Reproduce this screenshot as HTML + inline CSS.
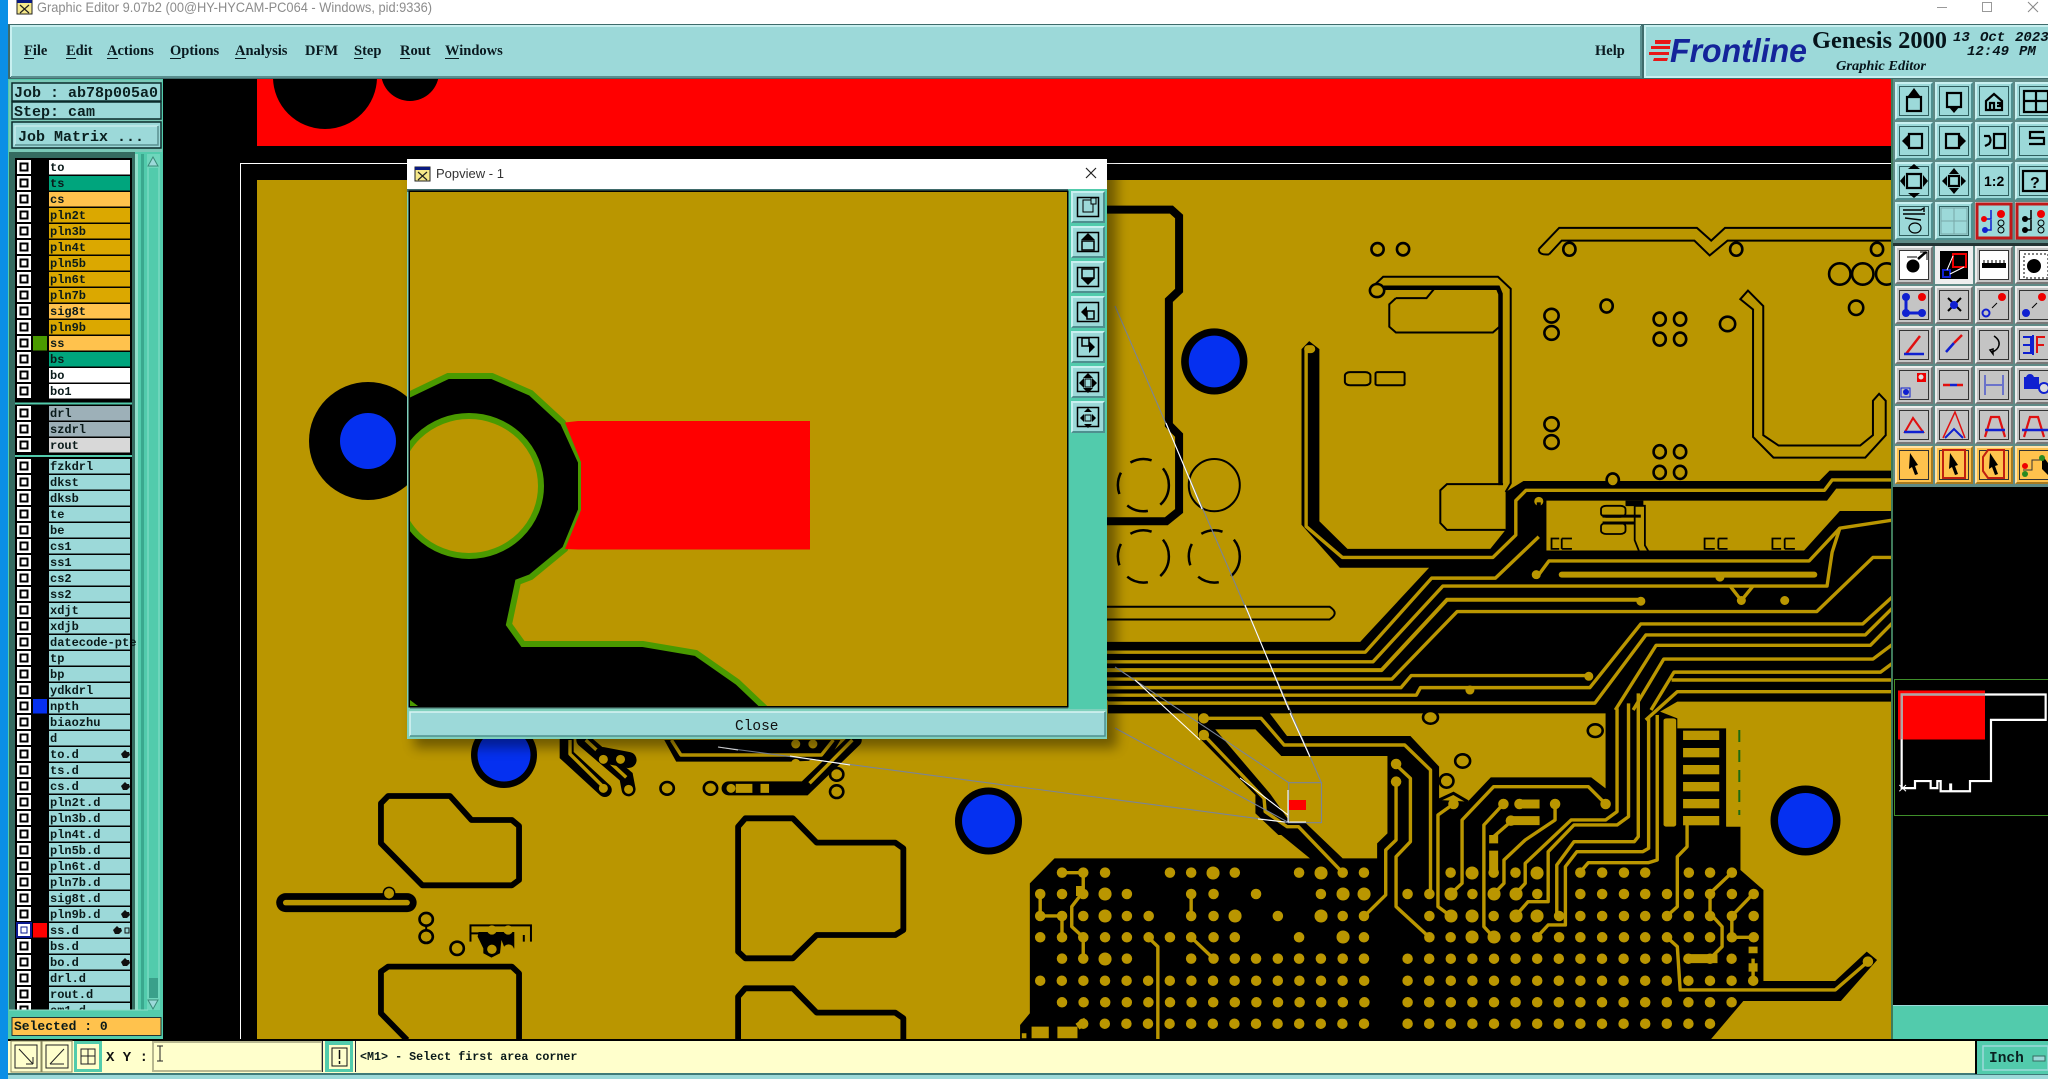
<!DOCTYPE html>
<html><head><meta charset="utf-8"><title>Graphic Editor</title>
<style>
html,body{margin:0;padding:0;background:#000;width:2048px;height:1079px;overflow:hidden}
svg{display:block;position:absolute;left:0;top:0}
svg *{vector-effect:non-scaling-stroke}
.m{font:bold 12px "Liberation Mono",monospace;fill:#0a1a1a}
.j{font:bold 15px "Liberation Mono",monospace;fill:#0a2020}
.u{font:bold 14.5px "Liberation Serif",serif;fill:#0a1a20}
.k{fill:none;stroke:#000;stroke-linejoin:round}
.t{stroke:#ba9600;fill:none;stroke-width:3.4;stroke-linejoin:round}
.r{fill:#ba9600;stroke:#000;stroke-width:2.6}
.ri{fill:none;stroke:#000;stroke-width:2}
.d{fill:none;stroke-linecap:round;stroke:#ba9600;stroke-width:10.5}
.ts{stroke:#000;fill:none;stroke-width:2}
</style></head><body>
<svg width="2048" height="1079" viewBox="0 0 2048 1079" xmlns="http://www.w3.org/2000/svg">
<defs>
<clipPath id="cv"><rect x="257" y="180" width="1635" height="859"/></clipPath>
<clipPath id="top"><rect x="257" y="79" width="1635" height="67"/></clipPath>
<clipPath id="pc"><rect x="410" y="192" width="657" height="514"/></clipPath>
<filter id="sh" x="-5%" y="-5%" width="110%" height="110%"><feGaussianBlur stdDeviation="6"/></filter>
<g id="c"><rect x="17" width="14" height="14" fill="#fff"/><rect x="20.5" y="3.5" width="7" height="7" fill="none" stroke="#000" stroke-width="2"/></g>
<g id="bt"><rect width="38" height="38" fill="#9cd9d9"/><path d="M0 38V0H38l-2 2H2V36z" fill="#c8f0f0"/><path d="M38 0V38H0l2-2H36V2z" fill="#4f8f8f"/><rect x="4.5" y="4.5" width="29" height="29" fill="none" stroke="#2f5f5f"/></g>
<g id="bg"><rect width="38" height="38" fill="#c4c4c4"/><path d="M0 38V0H38l-2 2H2V36z" fill="#eee"/><path d="M38 0V38H0l2-2H36V2z" fill="#777"/><rect x="4.5" y="4.5" width="29" height="29" fill="none" stroke="#333"/></g>
<g id="bw"><rect width="38" height="38" fill="#c4c4c4"/><path d="M0 38V0H38l-2 2H2V36z" fill="#eee"/><path d="M38 0V38H0l2-2H36V2z" fill="#777"/><rect x="4.5" y="4.5" width="29" height="29" fill="#fff" stroke="#333"/></g>
<g id="by"><rect width="38" height="38" fill="#ffc24d"/><path d="M0 38V0H38l-2 2H2V36z" fill="#ffe3a8"/><path d="M38 0V38H0l2-2H36V2z" fill="#a87a20"/><rect x="4.5" y="4.5" width="29" height="29" fill="none" stroke="#333"/></g>
<g id="bp"><rect width="34" height="32" fill="#9cd9d9"/><path d="M0 32V0H34l-2 2H2V30z" fill="#c8f0f0"/><path d="M34 0V32H0l2-2H32V2z" fill="#4f8f8f"/><rect x="6.5" y="6.5" width="21" height="19" fill="none" stroke="#000" stroke-width="1.5"/></g>
</defs>

<!-- base -->
<rect width="2048" height="1079" fill="#000"/>
<rect width="8" height="1079" fill="#0a8fe6"/>
<rect x="8" width="2040" height="24" fill="#fff"/>
<rect x="17" y="0" width="15" height="14" fill="#f6e88a" stroke="#222"/><rect x="17" y="0" width="15" height="3" fill="#0a1a80"/><path d="M20 5l9 8M29 5l-9 8" stroke="#222" stroke-width="1.2"/>
<text x="37" y="12" textLength="395" lengthAdjust="spacingAndGlyphs" style="font:14px 'Liberation Sans',sans-serif" fill="#8c8c8c">Graphic Editor 9.07b2 (00@HY-HYCAM-PC064 - Windows, pid:9336)</text>
<path d="M1937 7.5h10" stroke="#999"/><rect x="1982.5" y="2.5" width="9" height="9" fill="none" stroke="#999"/><path d="M2028 2l10 10M2038 2l-10 10" stroke="#888"/>

<!-- menu -->
<rect x="8" y="24" width="2040" height="55" fill="#3f6b6b"/>
<rect x="11" y="26" width="1630" height="51" fill="#9cd9d9"/><path d="M11 77V26H1641" fill="none" stroke="#c8f0f0" stroke-width="2"/><path d="M1641 26V77H11" fill="none" stroke="#5a8f8f" stroke-width="2"/>
<rect x="1645" y="26" width="403" height="51" fill="#9cd9d9"/><path d="M1645 77V26H2048" fill="none" stroke="#c8f0f0" stroke-width="2"/><path d="M1644 77H2048" stroke="#c8f0f0" stroke-width="2"/>
<text class="u" x="24" y="55">File</text><text class="u" x="66" y="55">Edit</text><text class="u" x="107" y="55">Actions</text><text class="u" x="170" y="55">Options</text><text class="u" x="235" y="55">Analysis</text><text class="u" x="305" y="55">DFM</text><text class="u" x="354" y="55">Step</text><text class="u" x="400" y="55">Rout</text><text class="u" x="445" y="55">Windows</text><text class="u" x="1595" y="55">Help</text>
<path d="M24 58.5h10M66 58.5h10M107 58.5h11M170 58.5h11M235 58.5h11M354 58.5h9M400 58.5h10M445 58.5h14" stroke="#0a1a20"/>
<path d="M1655 40h16l-1 4h-15zM1651 46h19v3h-19zM1649 52h20v3h-20zM1654 58h14l-1 3h-14z" fill="#e81818"/>
<text x="1670" y="62" textLength="137" lengthAdjust="spacingAndGlyphs" style="font:italic bold 33px 'Liberation Sans',sans-serif" fill="#14249a">Frontline</text>
<text x="1812" y="48" textLength="135" lengthAdjust="spacingAndGlyphs" style="font:bold 24px 'Liberation Serif',serif" fill="#06141a">Genesis 2000</text>
<text x="1836" y="70" textLength="90" lengthAdjust="spacingAndGlyphs" style="font:italic bold 14px 'Liberation Serif',serif" fill="#06141a">Graphic Editor</text>
<g style="font:italic bold 14px 'Liberation Mono',monospace" fill="#06141a"><text x="1953" y="41">13</text><text x="1980" y="41">Oct</text><text x="2015" y="41">2023</text><text x="1967" y="55">12:49</text><text x="2019" y="55">PM</text></g>

<!-- canvas -->
<rect x="163" y="79" width="1729" height="960" fill="#000"/>
<rect x="257" y="79" width="1635" height="67" fill="#f00"/>
<g clip-path="url(#top)"><circle cx="325" cy="77" r="52" fill="#000"/><circle cx="410" cy="72" r="29" fill="#000"/></g>
<path d="M240.500 1039V163.500H1892" fill="none" stroke="#fff"/>
<rect x="257" y="180" width="1635" height="859" fill="#ba9600"/>
<g clip-path="url(#cv)">
<circle cx="368" cy="441" r="59" fill="#000"/><circle cx="368" cy="441" r="28" fill="#0530f0"/>

<!-- z7 lower left -->
<g transform="translate(250,740) scale(.4762,.3333)">
<g class="k" stroke-width="5.800">
<path d="M275,190L290,168H420L465,240H550L565,258V420L550,436H362L275,310Z"/>
<path d="M565,900V700L550,680H290L275,695V820L330,900"/>
<path d="M1025,260L1040,235H1140L1190,308H1355L1372,325V570L1355,585H1190L1140,655H1040L1025,635Z"/>
<path d="M1025,900V770L1040,745H1140L1190,818H1355L1372,835V900"/>
</g>
<path d="M75,488H330" stroke="#000" stroke-width="19" stroke-linecap="round" fill="none"/>
<path d="M75,488H330" stroke="#ba9600" stroke-width="5.500" stroke-linecap="round" fill="none"/>
<ellipse class="r" cx="292" cy="460" rx="12" ry="18" style="stroke-width:1.500"/>
<ellipse class="r" cx="370" cy="538" rx="14" ry="19"/><ellipse class="r" cx="370" cy="590" rx="14" ry="19"/><ellipse class="r" cx="435" cy="625" rx="14" ry="20"/><ellipse class="r" cx="876" cy="145" rx="14" ry="19"/><ellipse class="r" cx="967" cy="145" rx="14" ry="19"/><ellipse class="r" cx="1232" cy="103" rx="14" ry="19"/><ellipse class="r" cx="1232" cy="155" rx="14" ry="19"/>
<path d="M370,557V571" stroke="#000" stroke-width="2"/>
<path class="ri" d="M463,605V556H590V605M575,605V585M490,580H465"/>
<path d="M478,590L490,625V640L507,653L525,640L528,600L535,625H555V576H480Z" fill="#000"/>
<ellipse cx="508" cy="628" rx="10" ry="14" fill="#ba9600"/><ellipse cx="543" cy="628" rx="11" ry="15" fill="#ba9600"/><ellipse cx="508" cy="570" rx="10" ry="14" fill="#ba9600"/><ellipse cx="542" cy="570" rx="10" ry="14" fill="#ba9600"/>
<path d="M870,0L895,65H1135L1215,60L1240,0Z" fill="#000"/>
<path d="M885,0L905,45H1200L1225,0" class="t"/>
<path d="M665,0V45L745,150M700,0L790,110L795,148" stroke="#000" stroke-width="14" stroke-linecap="round" fill="none"/>
<path d="M672,0V42L745,145M705,0L790,112M760,30H790" class="t"/>
<path d="M740,45L795,60" stroke="#000" stroke-width="16" stroke-linecap="round"/>
<path d="M1005,145H1165L1270,0" stroke="#000" stroke-width="14" stroke-linecap="round" fill="none"/>
<path d="M1175,130L1265,0" class="t"/>
<path d="M1020,145h35M1072,145h18" stroke="#ba9600" stroke-width="9"/>
<path class="d" style="stroke-width:9" d="M742,58h.1M778,58h.1M742,145h.1M795,148h.1M1146,12h.1M1182,12h.1M1146,70h.1M1182,70h.1M1010,145h.1"/>
</g>
<circle cx="504" cy="755" r="33" fill="#000"/><circle cx="504" cy="755" r="26.500" fill="#0530f0"/>
<circle cx="988.500" cy="821" r="33.500" fill="#000"/><circle cx="988.500" cy="821" r="26.500" fill="#0530f0"/>

<!-- black zones -->
<g transform="translate(1100,170) scale(.5102,.3444)">
<path fill="#000" d="M0,1370H510L645,1155H470L395,1030V520L410,497L430,520V1020L485,1100H765L795,1045V935L830,903H1410L1430,873H1560V1540H0Z"/>
<path fill="#ba9600" d="M875,960H1425L1443,925H1560V990H1450L1380,1105H875Z"/>
</g>
<g transform="translate(1000,680) scale(.574,.3333)">
<path fill="#000" d="M188,0H1560V65H1180L1150,95L1180,115V145H1265V440H1290V570L1330,630V903H1455L1510,815L1528,840L1465,963H1295L1235,1085H35V1035L52,1000V610L95,535H540L490,465H485L445,400V345L345,170V100H188Z"/>
<path fill="#ba9600" d="M470,100H1055V325L1030,292H855L815,365L765,360V260L715,168H500Z"/>
<path fill="#ba9600" d="M375,148H445L490,228H675V460L657,490V535H597L530,425H505L470,340Z"/>
<rect x="1190" y="152" width="63" height="28" fill="#ba9600"/><rect x="1190" y="204" width="63" height="28" fill="#ba9600"/><rect x="1190" y="255" width="63" height="28" fill="#ba9600"/><rect x="1190" y="306" width="63" height="28" fill="#ba9600"/><rect x="1190" y="357" width="63" height="28" fill="#ba9600"/><rect x="1190" y="408" width="63" height="28" fill="#ba9600"/>
<rect x="1266" y="145" width="24" height="295" fill="#ba9600"/>
<path d="M1288,150V405" stroke="#1c6a10" stroke-width="2" stroke-dasharray="12 8" fill="none"/>
<rect x="1156" y="115" width="22" height="325" rx="6" fill="#ba9600"/>
<ellipse class="r" cx="750" cy="112" rx="13" ry="19"/><ellipse class="r" cx="1037" cy="152" rx="13" ry="19"/><ellipse class="r" cx="806" cy="243" rx="13" ry="20"/><ellipse class="r" cx="778" cy="303" rx="12" ry="20"/>
<path d="M765,360L790,340L815,365" stroke="#000" stroke-width="3" fill="none"/>
<g class="t">
<path d="M355,165L460,355L462,395L500,440H520L597,578"/>
<path d="M355,115H455L495,195H705L750,270V640"/>
<path d="M690,255L715,295V485L690,530V680L748,772"/>
<path d="M690,305V480L672,510V645L635,708"/>
<path d="M790,372L763,405V680L785,708"/>
<path d="M877,372L843,435V740L860,772"/>
<path d="M967,372V420L915,480L878,540V610L860,642"/>
<path d="M1055,372L1025,320H860L805,420V610L785,642"/>
<path d="M1075,85V395L1055,420H995L915,550V610L898,642"/>
<path d="M1095,70V410L1075,435H1000L955,515V665H920L898,708"/>
<path d="M1112,40V470L1105,485H1000L970,555V705"/>
<path d="M1130,110V505L1120,515H1005L985,560V735H955L935,772"/>
<path d="M1145,105V540L1130,548H1025L1010,578"/>
<path d="M1125,120L1180,35H1560"/>
<path d="M1170,0H1560"/>
<path d="M1197,435V500L1180,530V680L1162,708"/>
<path d="M1512,845L1455,930H1185L1180,800L1162,772"/>
<path d="M275,1085V800L258,772"/>
<path d="M105,578H145V635L125,680V740L145,772V836"/>
<path d="M70,642V708H108V772"/>
<path d="M333,642V708M333,772L372,836"/>
<path d="M1275,578L1237,640V700L1258,740V800L1237,836H1200"/>
<path d="M1312,642L1275,708V772H1312"/>
<path d="M1312,836V905"/>
<path d="M860,470L890,425H940"/>
</g>
<path d="M900,372H940M890,422H940M860,465V490M860,512V570M1200,836H1250M1312,800V820M1312,850V875" stroke="#ba9600" stroke-width="9" fill="none"/>
<path class="d" d="M108,578h.1M145,578h.1M183,578h.1M296,578h.1M333,578h.1M372,578h.1M409,578h.1M521,578h.1M559,578h.1M597,578h.1M634,578h.1M785,578h.1M823,578h.1M860,578h.1M898,578h.1M936,578h.1M1011,578h.1M1049,578h.1M1087,578h.1M1124,578h.1M1200,578h.1M1237,578h.1M1275,578h.1
M70,642h.1M108,642h.1M145,642h.1M183,642h.1M221,642h.1M333,642h.1M372,642h.1M446,642h.1M559,642h.1M597,642h.1M634,642h.1M710,642h.1M748,642h.1M785,642h.1M823,642h.1M860,642h.1M898,642h.1M936,642h.1M1011,642h.1M1049,642h.1M1087,642h.1M1124,642h.1M1162,642h.1M1200,642h.1M1237,642h.1M1275,642h.1M1313,642h.1
M70,708h.1M108,708h.1M145,708h.1M183,708h.1M221,708h.1M259,708h.1M333,708h.1M372,708h.1M409,708h.1M484,708h.1M559,708h.1M597,708h.1M634,708h.1M748,708h.1M785,708h.1M823,708h.1M860,708h.1M898,708h.1M936,708h.1M974,708h.1M1011,708h.1M1049,708h.1M1087,708h.1M1124,708h.1M1162,708h.1M1200,708h.1M1237,708h.1M1275,708h.1M1313,708h.1
M70,772h.1M108,772h.1M145,772h.1M183,772h.1M221,772h.1M259,772h.1M296,772h.1M333,772h.1M372,772h.1M409,772h.1M521,772h.1M597,772h.1M634,772h.1M748,772h.1M785,772h.1M823,772h.1M860,772h.1M898,772h.1M936,772h.1M974,772h.1M1011,772h.1M1049,772h.1M1087,772h.1M1124,772h.1M1162,772h.1M1200,772h.1M1237,772h.1M1275,772h.1M1313,772h.1
M108,836h.1M145,836h.1M183,836h.1M221,836h.1M333,836h.1M372,836h.1M409,836h.1M446,836h.1M484,836h.1M521,836h.1M559,836h.1M597,836h.1M634,836h.1
M690,252h.1M690,305h.1M790,372h.1M877,372h.1M967,372h.1M1055,372h.1M890,422h.1M905,372h.1M355,115h.1M355,165h.1M1512,845h.1"/>
<path d="M55,1040H85V1075H55zM100,1040H135V1075H100zM38,1060h8v15h-8z" fill="#ba9600"/>
<path d="M135,1040L150,1022" stroke="#ba9600" stroke-width="7"/>
</g>
<g class="d" stroke-dasharray="0 21.600">
<path d="M1407.600 958.700H1733"/>
<path d="M1040.200 980.700H1365M1407.600 980.700H1755"/>
<path d="M1062 1002.300H1365M1407.600 1002.300H1733"/>
<path d="M1083.200 1023.700H1365M1407.600 1023.700H1711"/>
</g>
<path class="d" style="stroke-width:13" d="M1105,894h.1M1105,916h.1M1105,959h.1M1213,873h.1M1235,916h.1M1321,873h.1M1343,894h.1M1364,894h.1M1321,916h.1M1343,937h.1M1451,894h.1M1472,873h.1M1537,873h.1M1451,916h.1M1472,916h.1M1472,937h.1M1494,937h.1M1494,894h.1M1516,894h.1M1516,916h.1M1537,916h.1"/>
<path d="M1076,886h7v10h-7zM1065,873h0z" fill="#ba9600"/>
<circle cx="1805.500" cy="820.500" r="35" fill="#000"/><circle cx="1805.500" cy="820.500" r="27.500" fill="#0530f0"/>

<!-- z5 upper right -->
<g transform="translate(1100,170) scale(.5102,.3444)">
<path d="M0,115H140L155,135V350L135,378V740L155,770V990L130,1020H0" fill="none" stroke="#000" stroke-width="8" stroke-linejoin="miter"/>
<ellipse cx="224" cy="556" rx="65" ry="96" fill="#000"/><ellipse cx="224" cy="556" rx="50" ry="75" fill="#0530f0"/>
<g class="ts">
<ellipse cx="224" cy="915" rx="50" ry="76"/>
<ellipse cx="85" cy="915" rx="50" ry="76" stroke-dasharray="22 14" stroke-width="2.500"/>
<ellipse cx="85" cy="1122" rx="50" ry="76" stroke-dasharray="22 14" stroke-width="2.500"/>
<ellipse cx="224" cy="1122" rx="50" ry="76" stroke-dasharray="22 14" stroke-width="2.500"/>
<path d="M0,1268H450Q470,1287 450,1305H0"/>
<path d="M860,230L900,168H1170L1198,205L1225,168H1560"/>
<path d="M880,245L905,205H1165L1195,248L1230,205H1560"/>
<path d="M860,230Q860,248 880,245"/>
<path d="M530,345L555,310H780L805,345V910L795,935"/>
<path d="M580,372H640L655,345M580,372L567,390V455L580,472H770L783,455"/>
<path d="M790,912H680L667,930V1025L680,1045H795"/>
<path d="M1255,375L1270,350L1300,395V770L1330,800H1490L1515,770V670L1527,650L1540,670V770L1500,835H1320L1280,775V405Z"/>
<rect x="480" y="587" width="50" height="38" rx="10"/><rect x="540" y="587" width="57" height="38" rx="4"/>
</g>
<path d="M556,342H780L785,360V915" fill="none" stroke="#000" stroke-width="4.500"/>
<ellipse class="r" cx="543" cy="350" rx="14" ry="19"/>
<g class="r">
<ellipse cx="544" cy="230" rx="12" ry="18"/><ellipse cx="594" cy="230" rx="12" ry="18"/><ellipse cx="920" cy="230" rx="12" ry="19"/><ellipse cx="1247" cy="230" rx="12" ry="19"/><ellipse cx="1523" cy="230" rx="12" ry="19"/>
<ellipse cx="885" cy="423" rx="14" ry="20"/><ellipse cx="885" cy="473" rx="14" ry="20"/><ellipse cx="885" cy="738" rx="14" ry="20"/><ellipse cx="885" cy="790" rx="14" ry="20"/>
<ellipse cx="993" cy="395" rx="12" ry="19"/><ellipse cx="1097" cy="433" rx="12" ry="19"/><ellipse cx="1137" cy="433" rx="12" ry="19"/><ellipse cx="1097" cy="491" rx="12" ry="19"/><ellipse cx="1137" cy="491" rx="12" ry="19"/>
<ellipse cx="1230" cy="447" rx="15" ry="21"/><ellipse cx="1482" cy="400" rx="14" ry="21"/>
<ellipse cx="1097" cy="818" rx="12" ry="19"/><ellipse cx="1137" cy="818" rx="12" ry="19"/><ellipse cx="1097" cy="878" rx="12" ry="19"/><ellipse cx="1137" cy="878" rx="12" ry="19"/><ellipse cx="1005" cy="900" rx="12" ry="19"/>
<ellipse cx="1450" cy="302" rx="21" ry="31"/><ellipse cx="1495" cy="302" rx="21" ry="31"/><ellipse cx="1542" cy="302" rx="21" ry="31"/>
</g>
<path d="M404,520V1035L475,1125H770L815,1060V960L835,930H1420L1435,900H1560" class="t"/>
<path d="M408,520h6" stroke="#ba9600" stroke-width="8" stroke-linecap="round"/>
<g class="t">
<path d="M0,1400H520L650,1185H775L860,1065"/>
<path d="M0,1428H535L672,1208H1425L1435,1110L1450,1040L1560,1015"/>
<path d="M0,1452H552L680,1248H1060" style="stroke-width:4"/>
<path d="M0,1478H572L700,1282H1405L1515,1125H1560"/>
<path d="M0,1503H590L610,1468H960"/>
<path d="M0,1525H620L628,1503H960L1060,1318H1495L1560,1230"/>
<path d="M0,1548H970L1070,1350H1500L1560,1262"/>
<path d="M1010,1568L1090,1380H1510L1560,1305"/>
<path d="M1045,1568L1105,1420H1515L1560,1370"/>
<path d="M1080,1568L1125,1458H1530L1560,1425"/>
<path d="M855,1185L880,1135H1390L1450,1040"/>
<path d="M1235,1208L1257,1250L1280,1208"/>
</g>
<path d="M905,1175H1400" stroke="#ba9600" stroke-width="6" stroke-linecap="round" fill="none"/>
<path class="d" style="stroke-width:9" d="M860,962h.1M958,1470h.1M725,1510h.1M1060,1252h.1M1257,1250h.1M1342,1250h.1M855,1175h.1M1215,1182h.1"/>
<path d="M860,965V1060" stroke="#000" stroke-width="4" fill="none"/>
<g class="ts" style="stroke-width:1.800">
<rect x="982" y="975" width="48" height="32" rx="10"/><rect x="982" y="1025" width="48" height="32" rx="10"/>
<path d="M1048,975H1068V1090L1080,1120M1048,975V1075L1060,1120"/>
<path d="M900,1070H885V1100H900M905,1070V1100M905,1070H925M905,1100H925"/>
<path d="M1205,1070H1185V1100H1205M1212,1070V1100M1212,1070H1230M1212,1100H1230"/>
<path d="M1335,1070H1318V1100H1335M1342,1070V1100M1342,1070H1362M1342,1100H1362"/>
<path d="M1505,1075V1095M1520,1075V1095M1535,1075V1095M1500,1075H1550M1500,1095H1550"/>
</g>
<path d="M985,1005H1060M985,1025H1048" stroke="#000" stroke-width="3"/>
<rect x="1030" y="960" width="35" height="16" fill="#000"/>
</g>

<!-- connect lines -->
<g fill="none" stroke="#7a8498" stroke-width="1.100">
<path d="M1115,306L1321.500,783M1115,667L1288.700,782.700M1115,728L1289,822.700M718,747L1289,822.700"/>
<rect x="1288.700" y="782.700" width="32.800" height="40"/>
</g>
<rect x="1289" y="800" width="17" height="10" fill="#f00"/>
<g fill="none" stroke="#fff" stroke-width="1.100">
<path d="M1166,423L1202,509M1245,605L1289,710M1290,713L1310,757M1135,680L1200,740M1240,778L1288,815M1258,819L1285,822M1288,822H1306M718,747L738,750M790,756L850,765M1288,790V822"/>
</g>
</g>

<!-- right tool panel -->
<rect x="1892" y="79" width="156" height="407" fill="#5f8a86"/>
<path d="M1892 79V1040" stroke="#3f7a5a" stroke-width="2"/>
<rect x="1893" y="243" width="155" height="3" fill="#233"/>
<use href="#bt" x="1895" y="82"/><use href="#bt" x="1935" y="82"/><use href="#bt" x="1975" y="82"/><use href="#bt" x="2015" y="82"/>
<use href="#bt" x="1895" y="122"/><use href="#bt" x="1935" y="122"/><use href="#bt" x="1975" y="122"/><use href="#bt" x="2015" y="122"/>
<use href="#bt" x="1895" y="162"/><use href="#bt" x="1935" y="162"/><use href="#bt" x="1975" y="162"/><use href="#bt" x="2015" y="162"/>
<use href="#bt" x="1895" y="202"/><use href="#bt" x="1935" y="202"/><use href="#bt" x="1975" y="202"/><use href="#bt" x="2015" y="202"/>
<use href="#bw" x="1895" y="246"/><rect x="1935" y="246" width="38" height="38" fill="#eee"/><rect x="1940" y="251" width="28" height="28" fill="#000"/><use href="#bw" x="1975" y="246"/><use href="#bw" x="2015" y="246"/>
<use href="#bg" x="1895" y="286"/><use href="#bg" x="1935" y="286"/><use href="#bg" x="1975" y="286"/><use href="#bg" x="2015" y="286"/>
<use href="#bg" x="1895" y="326"/><use href="#bg" x="1935" y="326"/><use href="#bg" x="1975" y="326"/><use href="#bg" x="2015" y="326"/>
<use href="#bg" x="1895" y="366"/><use href="#bg" x="1935" y="366"/><use href="#bg" x="1975" y="366"/><use href="#bg" x="2015" y="366"/>
<use href="#bg" x="1895" y="406"/><use href="#bg" x="1935" y="406"/><use href="#bg" x="1975" y="406"/><use href="#bg" x="2015" y="406"/>
<use href="#by" x="1895" y="446"/><use href="#by" x="1935" y="446"/><use href="#by" x="1975" y="446"/><use href="#by" x="2015" y="446"/>
<g fill="none" stroke="#000" stroke-width="2.200">
<rect x="1907" y="97" width="14" height="14"/><rect x="1947" y="93" width="14" height="14"/><path d="M1986 110V101l8-7 8 7v9zM1990 110v-7h4v7M1997 103h3v3h-3"/><rect x="2024" y="91" width="24" height="21"/><path d="M2036 91v21M2024 101h24"/>
<rect x="1909" y="134" width="13" height="14"/><rect x="1946" y="134" width="13" height="14"/><rect x="1994" y="134" width="11" height="14"/><path d="M1984 136h5q3 4 0 8l-4 2M2044 132h-14v6h14v6h-15"/>
<rect x="1907" y="174" width="14" height="14"/><rect x="1949" y="176" width="10" height="10"/><rect x="2023" y="171" width="24" height="20"/>
<path d="M1903 210h18l3-2v4M1903 214h22M1905 218l16 2" stroke-width="1.400"/><ellipse cx="1915" cy="228" rx="6" ry="5" stroke-width="1.200"/>
</g>
<g fill="#000">
<path d="M1914 88l-6 8h12zM1954 113l-6-7h12zM1902 141l6-6v12zM1966 141l-6-6v12zM1914 164l-6 5h12zM1914 198l-6-5h12zM1900 181l5-6v12zM1928 181l-5-6v12zM1954 168l-5 6h10zM1954 194l-5-6h10zM1942 181l5-5v10zM1966 181l-5-5v10z"/>
<text x="1984" y="186" style="font:bold 14px 'Liberation Sans',sans-serif">1:2</text>
<text x="2030" y="188" style="font:bold 16px 'Liberation Sans',sans-serif">?</text>
</g>
<path d="M1941 208v26M1954 208v26M1941 221h26M1941 208h26v26h-26z" stroke="#78a8a8" fill="none"/>
<rect x="1977" y="204" width="34" height="34" fill="#9cd9d9" stroke="#c01818" stroke-width="3"/><rect x="2017" y="204" width="34" height="34" fill="#9cd9d9" stroke="#c01818" stroke-width="3"/>
<circle cx="2001" cy="214" r="4" fill="#e00"/><circle cx="2001" cy="223" r="3" fill="none" stroke="#000"/><circle cx="2001" cy="230" r="3" fill="none" stroke="#000"/><path d="M1985 219h6v-9M1985 230h6v-10" stroke="#1020d0" fill="none" stroke-width="1.500"/><circle cx="1984" cy="219" r="3" fill="#e00"/><circle cx="1985" cy="230" r="3" fill="#1020d0"/>
<circle cx="2041" cy="214" r="4" fill="#e00"/><circle cx="2041" cy="223" r="3" fill="none" stroke="#000"/><circle cx="2041" cy="230" r="3" fill="none" stroke="#000"/><path d="M2025 219h6v-9M2025 230h6v-10" stroke="#000" fill="none" stroke-width="1.500"/><circle cx="2025" cy="219" r="3" fill="#000"/><circle cx="2025" cy="230" r="3" fill="#000"/>
<circle cx="1913" cy="266" r="6.500" fill="#000"/><path d="M1918 259l8-7" stroke="#000" stroke-width="2.500"/><path d="M1907 257h10M1920 252h7v8" stroke="#000" fill="none"/>
<rect x="1953" y="254" width="13" height="13" fill="none" stroke="#e00" stroke-width="2"/><rect x="1943" y="270" width="7" height="7" fill="none" stroke="#1020d0" stroke-width="2"/><path d="M1947 270l6-14M1950 274l14-7" stroke="#fff"/>
<path d="M1982 263h24v5h-24z" fill="#000"/><path d="M1984 263v-3M1988 263v-3M1992 263v-3M1996 263v-3M2000 263v-3M2004 263v-3" stroke="#000"/>
<circle cx="2034" cy="266" r="7" fill="#000"/><rect x="2024" y="254" width="24" height="24" fill="none" stroke="#000" stroke-dasharray="2 2"/>
<circle cx="1906" cy="297" r="4" fill="#1020d0"/><circle cx="1906" cy="313" r="4" fill="#1020d0"/><circle cx="1922" cy="313" r="4" fill="#1020d0"/><circle cx="1922" cy="297" r="4" fill="#e00"/><path d="M1906 297v16h16" stroke="#1020d0" stroke-width="3" fill="none"/>
<path d="M1948 298l13 13M1961 298l-13 13" stroke="#000" stroke-width="2"/><circle cx="1954" cy="305" r="4" fill="#1020d0"/>
<circle cx="2002" cy="297" r="4" fill="#e00"/><circle cx="1986" cy="313" r="3.500" fill="none" stroke="#1020d0" stroke-width="2"/><path d="M1992 308l5-5" stroke="#000"/>
<circle cx="2042" cy="297" r="4" fill="#e00"/><circle cx="2026" cy="313" r="4" fill="#1020d0"/><path d="M2032 308l5-5" stroke="#000"/>
<path d="M1906 354l14-18" stroke="#e01010" stroke-width="2.500"/><path d="M1904 354h20" stroke="#1020d0" stroke-width="2.500"/>
<path d="M1946 352l8-9" stroke="#1020d0" stroke-width="2.500"/><path d="M1954 343l8-8" stroke="#e01010" stroke-width="2.500"/>
<path d="M1994 336q6 4 5 9t-7 7M1990 350l3 4v-5z" stroke="#000" fill="none" stroke-width="1.500"/>
<path d="M2023 337h8v16h-8M2023 345h7M2033 335v20" stroke="#1020d0" stroke-width="2" fill="none"/><path d="M2037 353v-16h8M2037 345h7" stroke="#e01010" stroke-width="2" fill="none"/>
<rect x="1917" y="373" width="9" height="9" fill="#e00"/><circle cx="1921" cy="377" r="2.500" fill="#ddd"/><rect x="1901" y="388" width="9" height="9" fill="none" stroke="#1020d0"/><circle cx="1906" cy="392" r="3" fill="#1020d0"/>
<path d="M1943 385h7" stroke="#e01010" stroke-width="2.500"/><path d="M1950 385h7" stroke="#1020d0" stroke-width="2.500"/><path d="M1957 385h6" stroke="#e01010" stroke-width="2.500"/>
<path d="M1985 375v20M2003 375v20M1986 385h16" stroke="#1020d0" fill="none"/>
<rect x="2024" y="377" width="15" height="12" fill="#1020d0"/><circle cx="2044" cy="388" r="5" fill="#ddd" stroke="#1020d0" stroke-width="2"/><circle cx="2030" cy="378" r="4" fill="#1020d0"/>
<path d="M1905 432l8-14 10 14z" fill="none" stroke="#e01010" stroke-width="2"/><path d="M1904 432h20" stroke="#1020d0" stroke-width="2.500"/>
<path d="M1943 438l12-26 10 26" stroke="#e01010" fill="none" stroke-width="1.500"/><path d="M1945 438l9-9 9 9" stroke="#1020d0" fill="none" stroke-width="2"/>
<path d="M1985 437l6-20h8l6 20" stroke="#e01010" fill="none" stroke-width="2.200"/><path d="M1985 430h20" stroke="#1020d0" stroke-width="2.500"/>
<path d="M2024 437l6-20h8l6 20" stroke="#e01010" fill="none" stroke-width="2.200"/><path d="M2022 430h26" stroke="#1020d0" stroke-width="2.500"/>
<path d="M1910 453l8 12-3 1 3 8-3 1-3-8-3 2z" fill="#000"/><path d="M1950 453l8 12-3 1 3 8-3 1-3-8-3 2z" fill="#000"/><rect x="1943" y="450" width="22" height="28" fill="none" stroke="#c02010" stroke-width="2"/><path d="M1990 453l8 12-3 1 3 8-3 1-3-8-3 2z" fill="#000"/><path d="M1988 450h16v28h-16l-5-7v-14z" fill="none" stroke="#c02010" stroke-width="2"/><path d="M2042 455l6 8v12l-6-6z" fill="#000"/><path d="M2023 470h9v-10h10" stroke="#333" fill="none"/><circle cx="2025" cy="474" r="3" fill="#2a8a20"/><circle cx="2042" cy="458" r="3" fill="#2a8a20"/><circle cx="2025" cy="466" r="3" fill="#e00"/>

<!-- minimap -->
<rect x="1893" y="486" width="155" height="519" fill="#000"/>
<path d="M1893 486H2048" stroke="#5f8a86" stroke-width="2"/>
<rect x="1894.500" y="679.500" width="160" height="136" fill="none" stroke="#3f8f2a"/>
<rect x="1898" y="690.500" width="87" height="49" fill="#f00"/>
<g transform="translate(1880,480) scale(.3333,.39)">
<path fill="none" stroke="#fff" stroke-width="2.200" d="M65,550H497V615H333V772H270V798H182V772H172V790H152V772H105V790H65Z"/>
<path fill="none" stroke="#a8a8a8" stroke-width="2.200" d="M65,665V550H315"/>
<path d="M58,782L78,798M58,798L78,782" stroke="#fff" stroke-width="1"/>
<path d="M212,798V778" stroke="#fff" stroke-width="3"/>
</g>
<rect x="1893" y="1005" width="155" height="35" fill="#52cbac"/><path d="M1893 1005.500H2048" stroke="#9cd9d9"/>
<path d="M1893 1039.500H2048" stroke="#9cd9d9"/>

<!-- left panel -->
<rect x="8" y="79" width="155" height="960" fill="#52cbac"/>
<rect x="9" y="80" width="153" height="72" fill="#7bc9b8"/>
<rect x="12" y="83" width="149" height="18" fill="#9cd9d9" stroke="#0a2a2a" stroke-width="1.500"/>
<rect x="12" y="102" width="149" height="17" fill="#9cd9d9" stroke="#0a2a2a" stroke-width="1.500"/>
<rect x="12" y="122" width="149" height="26" fill="#9cd9d9" stroke="#0a2a2a" stroke-width="1.500"/>
<rect x="15" y="126" width="143" height="19" fill="#9cd9d9"/><path d="M15 145V126H158" fill="none" stroke="#d8f4f4"/><path d="M158 126V145H15" fill="none" stroke="#5a8f8f" stroke-width="1.500"/>
<text class="j" x="14" y="97">Job : ab78p005a0</text>
<text class="j" x="14" y="116">Step: cam</text>
<text class="j" x="18" y="141">Job Matrix ...</text>

<rect x="9" y="152" width="126" height="858" fill="#356b60"/>
<rect x="15" y="158" width="117" height="245" fill="#000"/>
<rect x="15" y="404" width="117" height="51" fill="#000"/>
<rect x="15" y="457" width="117" height="553" fill="#000"/>
<rect x="15" y="402.500" width="117" height="2" fill="#52cbac"/><rect x="15" y="455" width="117" height="2" fill="#52cbac"/>
<rect x="135" y="152" width="28" height="858" fill="#52cbac"/>
<rect x="135" y="154" width="3" height="856" fill="#8fdcc8"/><rect x="141" y="154" width="3" height="856" fill="#3aa88e"/>
<rect x="147" y="154" width="13" height="856" fill="#6fd6bc"/><rect x="149" y="168" width="9" height="810" fill="#52cbac"/><rect x="149" y="978" width="9" height="20" fill="#3aa08a"/>
<path d="M153 157l-5 9h10z" fill="#9cd9d9" stroke="#3a8a78"/><path d="M153 1009l-5-9h10z" fill="#9cd9d9" stroke="#3a8a78"/>

<use href="#c" y="160"/><rect x="49" y="160" width="81" height="14.500" fill="#fff"/><text class="m" x="50" y="171">to</text>
<use href="#c" y="176"/><rect x="49" y="176" width="81" height="14.500" fill="#00a57d"/><text class="m" x="50" y="187">ts</text>
<use href="#c" y="192"/><rect x="49" y="192" width="81" height="14.500" fill="#ffc24d"/><text class="m" x="50" y="203">cs</text>
<use href="#c" y="208"/><rect x="49" y="208" width="81" height="14.500" fill="#dba800"/><text class="m" x="50" y="219">pln2t</text>
<use href="#c" y="224"/><rect x="49" y="224" width="81" height="14.500" fill="#dba800"/><text class="m" x="50" y="235">pln3b</text>
<use href="#c" y="240"/><rect x="49" y="240" width="81" height="14.500" fill="#dba800"/><text class="m" x="50" y="251">pln4t</text>
<use href="#c" y="256"/><rect x="49" y="256" width="81" height="14.500" fill="#dba800"/><text class="m" x="50" y="267">pln5b</text>
<use href="#c" y="272"/><rect x="49" y="272" width="81" height="14.500" fill="#dba800"/><text class="m" x="50" y="283">pln6t</text>
<use href="#c" y="288"/><rect x="49" y="288" width="81" height="14.500" fill="#dba800"/><text class="m" x="50" y="299">pln7b</text>
<use href="#c" y="304"/><rect x="49" y="304" width="81" height="14.500" fill="#ffc24d"/><text class="m" x="50" y="315">sig8t</text>
<use href="#c" y="320"/><rect x="49" y="320" width="81" height="14.500" fill="#dba800"/><text class="m" x="50" y="331">pln9b</text>
<use href="#c" y="336"/><rect x="33" y="336" width="14" height="14.500" fill="#4a9a00"/><rect x="49" y="336" width="81" height="14.500" fill="#ffc24d"/><text class="m" x="50" y="347">ss</text>
<use href="#c" y="352"/><rect x="49" y="352" width="81" height="14.500" fill="#00a57d"/><text class="m" x="50" y="363">bs</text>
<use href="#c" y="368"/><rect x="49" y="368" width="81" height="14.500" fill="#fff"/><text class="m" x="50" y="379">bo</text>
<use href="#c" y="384"/><rect x="49" y="384" width="81" height="14.500" fill="#fff"/><text class="m" x="50" y="395">bo1</text>
<use href="#c" y="406"/><rect x="49" y="406" width="81" height="14.500" fill="#9db0b8"/><text class="m" x="50" y="417">drl</text>
<use href="#c" y="422"/><rect x="49" y="422" width="81" height="14.500" fill="#9db0b8"/><text class="m" x="50" y="433">szdrl</text>
<use href="#c" y="438"/><rect x="49" y="438" width="81" height="14.500" fill="#d8d8d8"/><text class="m" x="50" y="449">rout</text>
<g fill="#9cd9d9">
<rect x="49" y="459" width="81" height="14.500"/><rect x="49" y="475" width="81" height="14.500"/><rect x="49" y="491" width="81" height="14.500"/><rect x="49" y="507" width="81" height="14.500"/><rect x="49" y="523" width="81" height="14.500"/><rect x="49" y="539" width="81" height="14.500"/><rect x="49" y="555" width="81" height="14.500"/><rect x="49" y="571" width="81" height="14.500"/><rect x="49" y="587" width="81" height="14.500"/><rect x="49" y="603" width="81" height="14.500"/><rect x="49" y="619" width="81" height="14.500"/><rect x="49" y="635" width="81" height="14.500"/><rect x="49" y="651" width="81" height="14.500"/><rect x="49" y="667" width="81" height="14.500"/><rect x="49" y="683" width="81" height="14.500"/><rect x="49" y="699" width="81" height="14.500"/><rect x="49" y="715" width="81" height="14.500"/><rect x="49" y="731" width="81" height="14.500"/><rect x="49" y="747" width="81" height="14.500"/><rect x="49" y="763" width="81" height="14.500"/><rect x="49" y="779" width="81" height="14.500"/><rect x="49" y="795" width="81" height="14.500"/><rect x="49" y="811" width="81" height="14.500"/><rect x="49" y="827" width="81" height="14.500"/><rect x="49" y="843" width="81" height="14.500"/><rect x="49" y="859" width="81" height="14.500"/><rect x="49" y="875" width="81" height="14.500"/><rect x="49" y="891" width="81" height="14.500"/><rect x="49" y="907" width="81" height="14.500"/><rect x="49" y="923" width="81" height="14.500"/><rect x="49" y="939" width="81" height="14.500"/><rect x="49" y="955" width="81" height="14.500"/><rect x="49" y="971" width="81" height="14.500"/><rect x="49" y="987" width="81" height="14.500"/><rect x="49" y="1003" width="81" height="14.500"/>
</g>
<use href="#c" y="459"/><use href="#c" y="475"/><use href="#c" y="491"/><use href="#c" y="507"/><use href="#c" y="523"/><use href="#c" y="539"/><use href="#c" y="555"/><use href="#c" y="571"/><use href="#c" y="587"/><use href="#c" y="603"/><use href="#c" y="619"/><use href="#c" y="635"/><use href="#c" y="651"/><use href="#c" y="667"/><use href="#c" y="683"/><use href="#c" y="699"/><use href="#c" y="715"/><use href="#c" y="731"/><use href="#c" y="747"/><use href="#c" y="763"/><use href="#c" y="779"/><use href="#c" y="795"/><use href="#c" y="811"/><use href="#c" y="827"/><use href="#c" y="843"/><use href="#c" y="859"/><use href="#c" y="875"/><use href="#c" y="891"/><use href="#c" y="907"/><use href="#c" y="923"/><use href="#c" y="939"/><use href="#c" y="955"/><use href="#c" y="971"/><use href="#c" y="987"/><use href="#c" y="1003"/>
<text class="m" x="50" y="470">fzkdrl</text><text class="m" x="50" y="486">dkst</text><text class="m" x="50" y="502">dksb</text><text class="m" x="50" y="518">te</text><text class="m" x="50" y="534">be</text><text class="m" x="50" y="550">cs1</text><text class="m" x="50" y="566">ss1</text><text class="m" x="50" y="582">cs2</text><text class="m" x="50" y="598">ss2</text><text class="m" x="50" y="614">xdjt</text><text class="m" x="50" y="630">xdjb</text><text class="m" x="50" y="646">datecode-pte</text><text class="m" x="50" y="662">tp</text><text class="m" x="50" y="678">bp</text><text class="m" x="50" y="694">ydkdrl</text><text class="m" x="50" y="710">npth</text><text class="m" x="50" y="726">biaozhu</text><text class="m" x="50" y="742">d</text><text class="m" x="50" y="758">to.d</text><text class="m" x="50" y="774">ts.d</text><text class="m" x="50" y="790">cs.d</text><text class="m" x="50" y="806">pln2t.d</text><text class="m" x="50" y="822">pln3b.d</text><text class="m" x="50" y="838">pln4t.d</text><text class="m" x="50" y="854">pln5b.d</text><text class="m" x="50" y="870">pln6t.d</text><text class="m" x="50" y="886">pln7b.d</text><text class="m" x="50" y="902">sig8t.d</text><text class="m" x="50" y="918">pln9b.d</text><text class="m" x="50" y="934">ss.d</text><text class="m" x="50" y="950">bs.d</text><text class="m" x="50" y="966">bo.d</text><text class="m" x="50" y="982">drl.d</text><text class="m" x="50" y="998">rout.d</text><text class="m" x="50" y="1014">cm1.d</text>
<rect x="33" y="699" width="14" height="14.500" fill="#0530f0"/>
<rect x="33" y="923" width="14" height="14.500" fill="#f00"/>
<rect x="17" y="923" width="14" height="14" fill="#fff" stroke="#0a1a90" stroke-width="2"/><rect x="21" y="927" width="6" height="6" fill="#fff" stroke="#0a1a90"/>
<path d="M121 754l4-4 2 2h2l1 3-3 3h-4zM121 786l4-4 2 2h2l1 3-3 3h-4zM121 914l4-4 2 2h2l1 3-3 3h-4zM121 962l4-4 2 2h2l1 3-3 3h-4zM113 930l4-4 2 2h2l1 3-3 3h-4z" fill="#111"/>
<rect x="125" y="928" width="4" height="5" fill="none" stroke="#111"/>
<rect x="130" y="636" width="2" height="14" fill="#000"/>
<rect x="9" y="1010" width="154" height="29" fill="#52cbac"/><path d="M9 1010H148" stroke="#8fdcc8"/>
<rect x="12" y="1017.500" width="149" height="18" fill="#ffc24d" stroke="#233" stroke-width="1"/>
<text class="m" x="14" y="1030" style="font-size:13px">Selected : 0</text>

<!-- status bar -->
<rect x="8" y="1039" width="2040" height="36" fill="#ffffcc"/>
<rect x="8" y="1039" width="2040" height="2" fill="#000"/>
<rect x="8" y="1073" width="2040" height="6" fill="#3f7a78"/><rect x="8" y="1075" width="2040" height="4" fill="#9cd9d9"/>
<rect x="11" y="1041" width="30" height="31" fill="#ffffcc" stroke="#8a8a60"/><rect x="15" y="1045" width="22" height="23" fill="none" stroke="#222"/><path d="M19 1049l14 15M33 1064h-7M33 1064v-7" stroke="#222" fill="none"/>
<rect x="42" y="1041" width="30" height="31" fill="#ffffcc" stroke="#8a8a60"/><rect x="46" y="1045" width="22" height="23" fill="none" stroke="#222"/><path d="M50 1064l14-15M50 1064h14" stroke="#222" fill="none"/>
<rect x="74" y="1041" width="28" height="31" fill="#52cbac"/><rect x="77" y="1044" width="22" height="25" fill="#ffffcc"/><rect x="81" y="1049" width="14" height="15" fill="none" stroke="#222"/><path d="M81 1056h14M88 1049v15" stroke="#222"/>
<text x="106" y="1061" style="font:bold 14px 'Liberation Mono',monospace" fill="#111">X Y :</text>
<rect x="153" y="1042" width="169" height="29" fill="#ffffcc" stroke="#b8b890" stroke-width="2"/>
<path d="M157 1046h6M157 1061h6M160 1046v15" stroke="#222"/>
<rect x="325" y="1041" width="28" height="31" fill="#52cbac"/><rect x="329" y="1045" width="21" height="24" fill="#ffffcc"/><rect x="332" y="1048" width="15" height="18" fill="none" stroke="#111"/><path d="M339.500 1050v9M339.500 1061v3" stroke="#111" stroke-width="1.500"/>
<path d="M322.500 1041V1072M355.500 1041V1072" stroke="#223" stroke-width="1"/>
<text class="m" x="360" y="1060" style="font-size:11.700px">&lt;M1&gt; - Select first area corner</text>
<rect x="1975" y="1041" width="73" height="33" fill="#52cbac"/><rect x="1975" y="1041" width="2" height="33" fill="#000"/>
<rect x="1983" y="1046" width="65" height="24" fill="#52cbac" stroke="#9cd9d9" stroke-width="1.500"/>
<text x="1989" y="1062" style="font:bold 14.500px 'Liberation Mono',monospace" fill="#0a2020">Inch</text>
<rect x="2033" y="1056" width="12" height="5" fill="#9cd9d9" stroke="#356b60"/>

<!-- popview -->
<rect x="414" y="166" width="703" height="582" fill="#000" opacity=".4" filter="url(#sh)"/>
<rect x="407" y="159" width="700" height="580" fill="#5f9a8e"/>
<rect x="407" y="159" width="700" height="30" fill="#fff"/>
<rect x="415" y="167" width="15" height="14" fill="#f6e88a" stroke="#222"/><rect x="415" y="167" width="15" height="3" fill="#0a1a80"/><path d="M418 172l9 8M427 172l-9 8" stroke="#222" stroke-width="1.200"/>
<text x="436" y="178" style="font:13px 'Liberation Sans',sans-serif" fill="#333">Popview - 1</text>
<path d="M1086 168l10 10M1096 168l-10 10" stroke="#222" stroke-width="1.200"/>
<rect x="407" y="189" width="700" height="3" fill="#3f6b6b"/>
<rect x="407" y="192" width="3" height="518" fill="#7fd0bc"/>
<rect x="1068" y="189" width="39" height="521" fill="#52cbac"/>
<rect x="409.500" y="191.500" width="658" height="515" fill="none" stroke="#000" stroke-width="2"/>
<rect x="410" y="192" width="657" height="514" fill="#ba9600"/>
<g clip-path="url(#pc)">
<path d="M402,398L448,376H492L531,393L563,422.500L581,462V510L565,549L531,577L518,582L509,624.500L523,644H643L696,653L737.500,682L765,708V715H402Z" fill="#000" stroke="#4a9a00" stroke-width="6"/>
<ellipse cx="469" cy="486" rx="72" ry="70" fill="#ba9600" stroke="#4a9a00" stroke-width="6"/>
<path d="M410,700l8,6h-8z" fill="#4a9a00"/>
<path d="M565,422.500L578,421H810V549.500H578L565,549L581,510V462Z" fill="#f00"/>
</g>
<use href="#bp" x="1071" y="191"/><use href="#bp" x="1071" y="226"/><use href="#bp" x="1071" y="261"/><use href="#bp" x="1071" y="296"/><use href="#bp" x="1071" y="331"/><use href="#bp" x="1071" y="366"/><use href="#bp" x="1071" y="401"/>
<g fill="#000">
<path d="M1088 233l-7 7h14zM1088 285l-7-7h14zM1081 312l6-6v12zM1095 347l-6-6v12zM1088 373l-5 5h10zM1088 393l-5-5h10zM1079 383l5-5v10zM1097 383l-5-5v10zM1088 408l-4 4h8zM1088 428l-4-4h8zM1080 418l4-4v8zM1096 418l-4-4v8z"/>
<path d="M1082 241h12v9h-12zM1082 269h12v9h-12zM1087 311h7v8h-7zM1082 346h7v-8h-7z" fill="none" stroke="#000" stroke-width="1.500"/>
<rect x="1083" y="200" width="10" height="12" fill="none" stroke="#000"/><rect x="1091" y="198" width="5" height="6" fill="#9cd9d9" stroke="#000"/>
<rect x="1085" y="379" width="6" height="8" fill="none" stroke="#000"/><rect x="1085" y="415" width="6" height="6" fill="none" stroke="#000"/>
</g>
<rect x="407" y="709" width="700" height="30" fill="#7fd0bc"/>
<rect x="410" y="712" width="695" height="24" fill="#9cd9d9"/><path d="M410 736V712H1105" fill="none" stroke="#d8f4f4" stroke-width="1.500"/><path d="M1105 712V736H410" fill="none" stroke="#4f8f8f" stroke-width="1.500"/>
<text x="735" y="730" style="font:14.500px 'Liberation Mono',monospace" fill="#111">Close</text>
</svg>
</body></html>
